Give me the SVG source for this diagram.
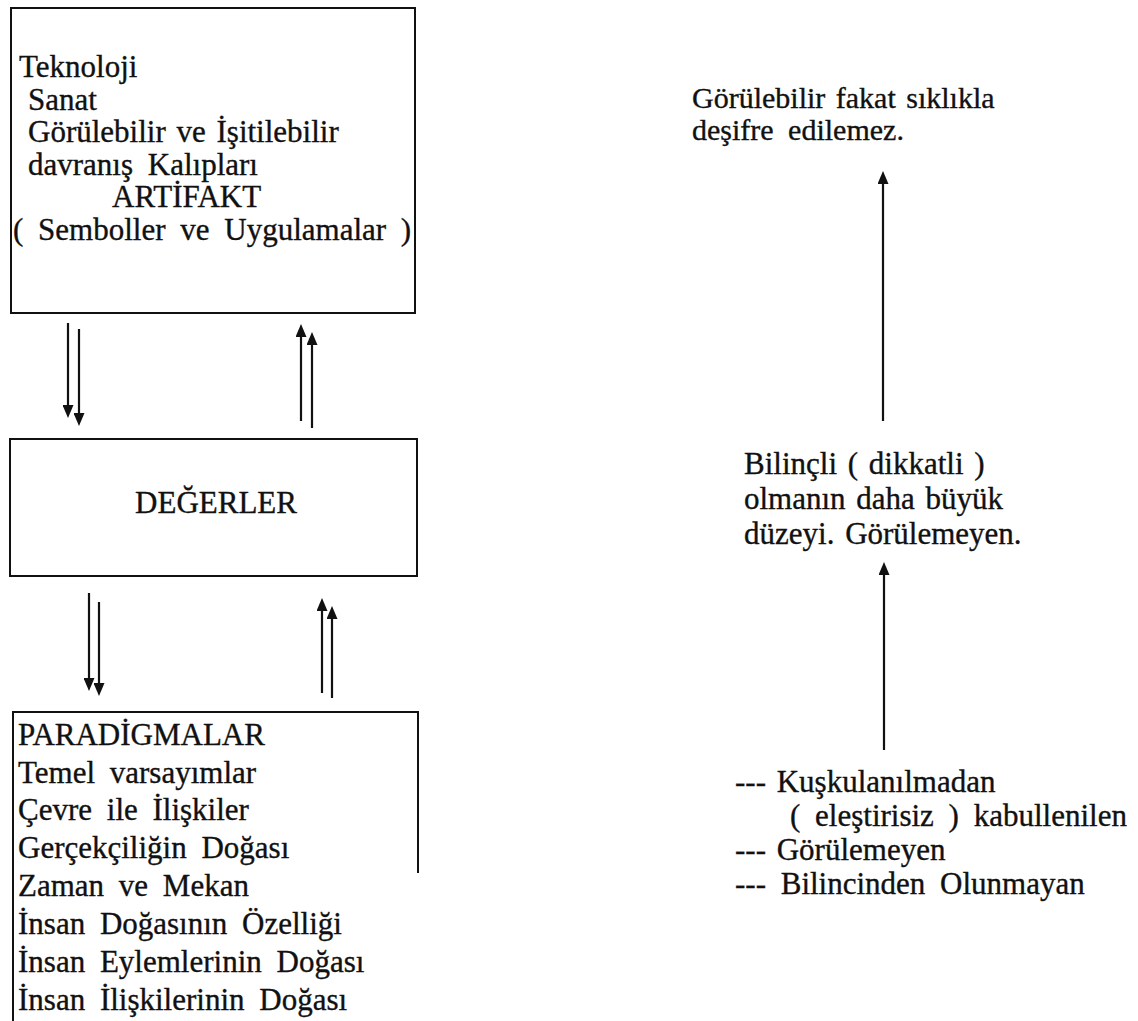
<svg xmlns="http://www.w3.org/2000/svg" width="1138" height="1021" viewBox="0 0 1138 1021">
<style>
  text { font-family: "Liberation Serif", "Times New Roman", serif; font-size: 31px; fill: #111; stroke: #111; stroke-width: 0.35; word-spacing: 7px; }
  .tight { word-spacing: 3px; }
  .small { font-size: 30px; }
  .box { fill: none; stroke: #111; stroke-width: 2; }
  .conn line { stroke: #111; stroke-width: 2.2; }
</style>
<defs>
  <marker id="ah" markerUnits="userSpaceOnUse" markerWidth="14" markerHeight="11" refX="4" refY="5.5" orient="auto">
    <path d="M0,0 L13,5.5 L0,11 Z" fill="#111"/>
  </marker>
</defs>
<rect width="1138" height="1021" fill="#fff"/>

<g id="artifakt">
  <rect class="box" x="11" y="8" width="404" height="305"/>
  <text x="19" y="77">Teknoloji</text>
  <text x="28" y="110">Sanat</text>
  <text x="28" y="142" class="tight">Görülebilir ve İşitilebilir</text>
  <text x="28" y="175">davranış Kalıpları</text>
  <text x="112" y="207">ARTİFAKT</text>
  <text x="13" y="240">( Semboller ve Uygulamalar )</text>
</g>

<g id="degerler">
  <rect class="box" x="10" y="439" width="407" height="137"/>
  <text x="216" y="513" text-anchor="middle">DEĞERLER</text>
</g>

<g id="paradigmalar">
  <path class="box" d="M13,1021 V712 H418 V873"/>
  <text x="18" y="745">PARADİGMALAR</text>
  <text x="18" y="783">Temel varsayımlar</text>
  <text x="18" y="820">Çevre ile İlişkiler</text>
  <text x="18" y="858">Gerçekçiliğin Doğası</text>
  <text x="18" y="896">Zaman ve Mekan</text>
  <text x="18" y="934">İnsan Doğasının Özelliği</text>
  <text x="18" y="972">İnsan Eylemlerinin Doğası</text>
  <text x="18" y="1010">İnsan İlişkilerinin Doğası</text>
</g>

<g id="label-top">
  <text x="692" y="108" class="small tight">Görülebilir fakat sıklıkla</text>
  <text x="692" y="140" class="small">deşifre edilemez.</text>
</g>

<g id="label-middle">
  <text x="744" y="474" class="tight">Bilinçli ( dikkatli )</text>
  <text x="744" y="509" class="tight">olmanın daha büyük</text>
  <text x="744" y="544" class="tight">düzeyi. Görülemeyen.</text>
</g>

<g id="label-bottom">
  <text x="735" y="792" class="tight">--- Kuşkulanılmadan</text>
  <text x="790" y="826">( eleştirisiz ) kabullenilen</text>
  <text x="735" y="860" class="tight">--- Görülemeyen</text>
  <text x="735" y="894">--- Bilincinden Olunmayan</text>
</g>

<g class="conn" id="connectors">
  <line x1="68" y1="323" x2="68" y2="409" marker-end="url(#ah)"/>
  <line x1="79" y1="329" x2="79" y2="417" marker-end="url(#ah)"/>
  <line x1="301" y1="421" x2="301" y2="333" marker-end="url(#ah)"/>
  <line x1="312" y1="428" x2="312" y2="341" marker-end="url(#ah)"/>
  <line x1="89" y1="593" x2="89" y2="682" marker-end="url(#ah)"/>
  <line x1="99" y1="602" x2="99" y2="687" marker-end="url(#ah)"/>
  <line x1="322" y1="693" x2="322" y2="607" marker-end="url(#ah)"/>
  <line x1="332" y1="698" x2="332" y2="615" marker-end="url(#ah)"/>
  <line x1="883" y1="421" x2="883" y2="180" marker-end="url(#ah)"/>
  <line x1="884" y1="750" x2="884" y2="571" marker-end="url(#ah)"/>
</g>
</svg>
